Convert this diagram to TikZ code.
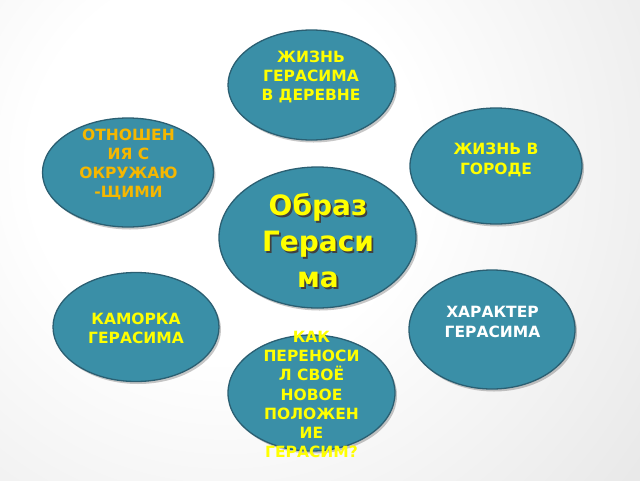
\documentclass[tikz,border=0pt]{standalone}
\usepackage{fontspec}
\setmainfont{DejaVu Sans}
\usetikzlibrary{shapes.geometric,shadows}
\definecolor{bggray}{HTML}{C2C2C2}
\definecolor{teal1}{HTML}{3A8FA7}
\definecolor{tealedge}{HTML}{2B5F72}
\definecolor{yel}{HTML}{FFFF00}
\definecolor{gold}{HTML}{F5B700}
\newcommand{\shline}[1]{\makebox[0pt][l]{\kern1.8pt\raisebox{-1.8pt}{\textcolor{black!75}{#1}}}#1}
\pgfdeclareradialshading{bgshade}{\pgfpoint{0bp}{0bp}}{color(0bp)=(white); color(9bp)=(white); color(50bp)=(bggray)}
\begin{document}
\begin{tikzpicture}[x=1pt,y=-1pt,
  blob/.style={ellipse, draw=tealedge, line width=1.3pt, fill=teal1, inner sep=0pt,
    drop shadow={shadow xshift=2pt, shadow yshift=-2.5pt, opacity=0.22, fill=black}},
  lbl/.style={align=center, inner sep=0pt, font=\fontsize{15.5}{19.2}\selectfont\bfseries},
  big/.style={align=center, inner sep=0pt, font=\fontsize{28}{36}\selectfont\bfseries}
]
\useasboundingbox (0,0) rectangle (640,480);
\begin{scope}
\clip (0,0) rectangle (640,480);
\fill[bggray] (0,0) rectangle (640,480);
\shade[shading=bgshade] (225,165) circle (540);
\end{scope}

\node[blob, minimum width=167pt, minimum height=110pt] (e1) at (311.5,85) {};
\node[blob, minimum width=172pt, minimum height=116pt] (e2) at (496,166) {};
\node[blob, minimum width=171pt, minimum height=109pt] (e3) at (128,172.5) {};
\node[blob, minimum width=197pt, minimum height=141pt] (e4) at (317.5,237.5) {};
\node[blob, minimum width=166pt, minimum height=109pt] (e5) at (136,327) {};
\node[blob, minimum width=166pt, minimum height=119pt] (e6) at (492,329.5) {};
\node[blob, minimum width=167pt, minimum height=116pt] (e7) at (311.5,393) {};

\node[lbl, text=yel] (t1) at (311,77) {ЖИЗНЬ\\ГЕРАСИМА\\В ДЕРЕВНЕ};
\node[lbl, text=yel] (t2) at (496,160) {ЖИЗНЬ В\\ГОРОДЕ};
\node[lbl, text=gold] (t3) at (128.5,164.5) {ОТНОШЕН\\ИЯ С\\ОКРУЖАЮ\\-ЩИМИ};
\node[big, text=yel] (t4) at (318,241.5) {\shline{Образ}\\\shline{Гераси}\\\shline{ма}};
\node[lbl, text=yel] (t5) at (136,328) {КАМОРКА\\ГЕРАСИМА};
\node[lbl, text=white] (t6) at (492.5,322) {ХАРАКТЕР\\ГЕРАСИМА};
\node[lbl, text=yel] (t7) at (311.5,394.5) {КАК\\ПЕРЕНОСИ\\Л СВОЁ\\НОВОЕ\\ПОЛОЖЕН\\ИЕ\\ГЕРАСИМ?};
\end{tikzpicture}
\end{document}
